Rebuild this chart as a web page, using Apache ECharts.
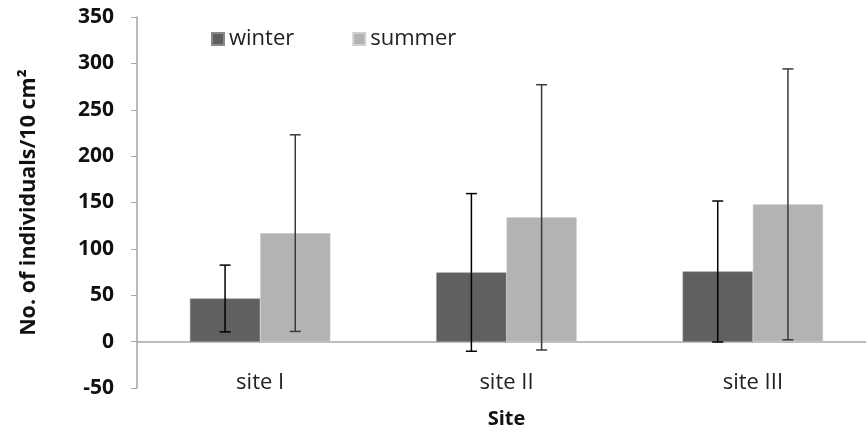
<!DOCTYPE html>
<html><head><meta charset="utf-8">
<script src="https://cdn.jsdelivr.net/npm/echarts@6/dist/echarts.min.js"></script>
<style>html,body{margin:0;padding:0;background:#fff}#c{width:866px;height:434px}</style>
</head><body><div id="c"></div>
<script>
const categories = ['site I', 'site II', 'site III'];
const winter = [46.5, 74.6, 75.6];
const winterErr = [36, 85, 76];
const summer = [117, 134, 148];
const summerErr = [106, 143, 146];
const yTicks = {min: -50, max: 350, interval: 50};

const FONT = 'Open Sans';
const GAP = 0.43;

function errSeries(name, values, errs, side, color) {
  return {
    type: 'custom', name: name + ' err', silent: true, z: 5,
    data: values.map((v, i) => [i, v - errs[i], v + errs[i]]),
    renderItem: function (params, api) {
      const i = api.value(0);
      const lo = api.coord([i, api.value(1)]);
      const hi = api.coord([i, api.value(2)]);
      const cw = api.size([1, 0])[0];
      const bw = cw * (1 - GAP) / 2;
      const x = lo[0] + side * bw / 2;
      const cap = 5.5;
      const st = {stroke: color, lineWidth: 1.5};
      return {type: 'group', children: [
        {type: 'line', shape: {x1: x, y1: lo[1], x2: x, y2: hi[1]}, style: st},
        {type: 'line', shape: {x1: x - cap, y1: lo[1], x2: x + cap, y2: lo[1]}, style: st},
        {type: 'line', shape: {x1: x - cap, y1: hi[1], x2: x + cap, y2: hi[1]}, style: st}
      ]};
    }
  };
}

const chart = echarts.init(document.getElementById('c'), null, {renderer: 'canvas'});
chart.setOption({
  animation: false,
  textStyle: {fontFamily: FONT},
  legend: {
    data: ['winter', 'summer'], left: 206, top: 23, itemWidth: 12, itemHeight: 12, itemGap: 58,
    icon: 'rect', textStyle: {fontFamily: FONT, fontSize: 22, color: '#222'}
  },
  grid: {left: 137, right: -10, top: 17, bottom: 46, containLabel: false, outerBoundsMode: 'none'},
  xAxis: {
    type: 'category', data: categories,
    axisLine: {onZero: true, lineStyle: {color: '#a6a6a6', width: 1.5}},
    axisTick: {show: false},
    axisLabel: {margin: -16, fontSize: 22, color: '#222', fontFamily: FONT},
    name: 'Site', nameLocation: 'middle', nameGap: 21,
    nameTextStyle: {fontSize: 20, fontWeight: 'bold', color: '#111', fontFamily: FONT}
  },
  yAxis: {
    type: 'value', min: yTicks.min, max: yTicks.max, interval: yTicks.interval,
    axisLine: {show: true, lineStyle: {color: '#a6a6a6', width: 1.5}},
    axisTick: {show: true, length: 6, lineStyle: {color: '#a6a6a6'}},
    splitLine: {show: false},
    axisLabel: {margin: 23, fontSize: 21, fontWeight: 'bold', color: '#111', fontFamily: FONT},
    name: 'No. of individuals/10 cm²', nameLocation: 'middle', nameGap: 97,
    nameTextStyle: {fontSize: 21.5, fontWeight: 'bold', color: '#111', fontFamily: FONT}
  },
  series: [
    {name: 'winter', type: 'bar', data: winter, barGap: '0%', barCategoryGap: (GAP * 100) + '%',
     itemStyle: {color: '#606060', borderColor: '#8a8a8a', borderWidth: 0.5}},
    {name: 'summer', type: 'bar', data: summer, barGap: '0%', barCategoryGap: (GAP * 100) + '%',
     itemStyle: {color: '#b3b3b3', borderColor: '#d0d0d0', borderWidth: 0.5}},
    errSeries('winter', winter, winterErr, -1, '#000000'),
    errSeries('summer', summer, summerErr, 1, '#3a3a3a')
  ]
});
</script></body></html>
